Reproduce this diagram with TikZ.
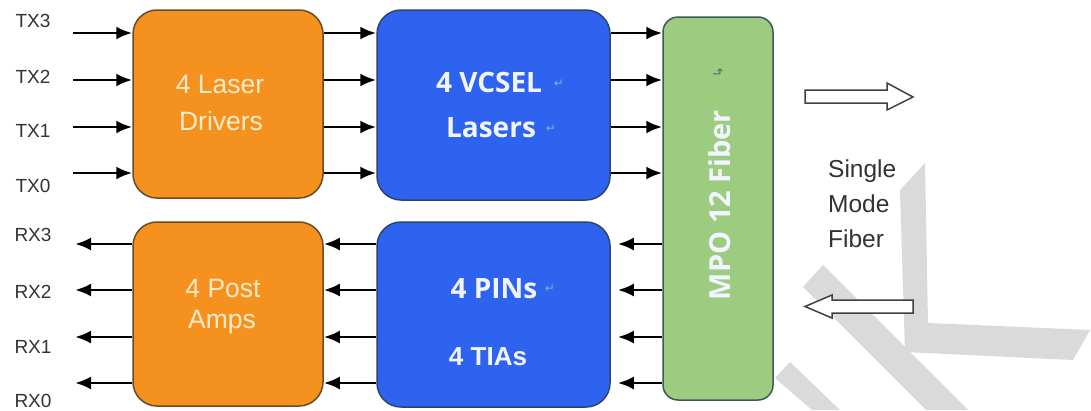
\documentclass[tikz,border=0pt]{standalone}
\usepackage{fontspec}
\setmainfont{Liberation Sans}
\newfontfamily\osans{Open Sans}
\newfontfamily\djv{DejaVu Sans}
\usetikzlibrary{arrows.meta,calc}
\definecolor{orng}{HTML}{F5921F}
\definecolor{orngb}{HTML}{6B4A2A}
\definecolor{blu}{HTML}{2D63EE}
\definecolor{blub}{HTML}{2D4370}
\definecolor{grn}{HTML}{9DCB80}
\definecolor{grnb}{HTML}{3D5A55}
\definecolor{txtgrey}{HTML}{333333}
\definecolor{otxt}{HTML}{FFEBC8}
\definecolor{btxt}{HTML}{F2F5FF}
\definecolor{wmark}{HTML}{DADADA}
\definecolor{pmark}{HTML}{8FA6E6}
\begin{document}
\begin{tikzpicture}[x=1pt,y=-1pt,
  box/.style={draw, line width=1.5pt, rounded corners=24pt, inner sep=0pt},
  arr/.style={line width=2.7pt, -{Latex[length=16pt,width=13pt]}},
  lbl/.style={text=txtgrey, font=\fontsize{19}{19}\selectfont, inner sep=0pt},
  otext/.style={text=otxt, font=\fontsize{26.5}{26}\selectfont, inner sep=0pt, anchor=base},
  btext/.style={text=btxt, font=\osans\bfseries\fontsize{28}{28}\selectfont, inner sep=0pt, anchor=base},
  pm/.style={text=pmark, font=\djv\fontsize{12}{12}\selectfont, inner sep=0pt},
  smf/.style={text=txtgrey, font=\fontsize{24.5}{24}\selectfont, inner sep=0pt, anchor=base west},
  hollow/.style={draw=black!75, line width=1.5pt, fill=white, line join=miter}
]
\useasboundingbox (0,0) rectangle (1091,410);
\fill[white] (0,0) rectangle (1091,410);

% watermark
\fill[wmark] (900,190) -- (925,163) -- (928,323) -- (1090,330) -- (1073,360) -- (905,352) -- cycle;
\fill[wmark] (803,287) -- (823,265) -- (968,410) -- (926,410) -- cycle;
\fill[wmark] (775,378) -- (790,362) -- (840,410) -- (812,410) -- cycle;

% boxes
\node[box, fill=orng, draw=orngb, minimum width=190pt, minimum height=188pt] (ld) at (228,104) {};
\node[box, fill=orng, draw=orngb, minimum width=190pt, minimum height=184pt] (pa) at (228,314) {};
\node[box, fill=blu, draw=blub, minimum width=233pt, minimum height=190pt] (vc) at (493.5,105) {};
\node[box, fill=blu, draw=blub, minimum width=233pt, minimum height=185pt] (pn) at (493.5,314.5) {};
\node[box, fill=grn, draw=grnb, rounded corners=15pt, minimum width=110pt, minimum height=383pt] (mpo) at (718,208.5) {};

% box texts
\node[otext] (ld1) at (220,93) {4 Laser};
\node[otext] (ld2) at (221,130) {Drivers};
\node[otext] (pa1) at (223,297) {4 Post};
\node[otext] (pa2) at (222,328) {Amps};
\node[btext] (vc1) at (489,92) {4 VCSEL};
\node[btext] (vc2) at (491,137) {Lasers};
\node[btext] (pn1) at (494,298) {4 PINs};
\node[text=btxt, font=\bfseries\fontsize{26}{26}\selectfont, inner sep=0pt, anchor=base] (pn2) at (488,365) {4 TIAs};
\node[pm] (pm1) at (559,84) {↵};
\node[pm] (pm2) at (551,129) {↵};
\node[pm] (pm3) at (550,289) {↵};
\node[text=btxt, font=\osans\bfseries\fontsize{29}{29}\selectfont, inner sep=0pt, rotate=90] (mpot) at (720,205) {MPO 12 Fiber};
\node[text=grnb!80!grn, font=\djv\fontsize{13}{13}\selectfont, inner sep=0pt, rotate=90] (pm4) at (718,72) {↳};

% TX / RX labels
\node[lbl] (tx3) at (33,21) {TX3};
\node[lbl] (tx2) at (33,77) {TX2};
\node[lbl] (tx1) at (33,131) {TX1};
\node[lbl] (tx0) at (33,186) {TX0};
\node[lbl] (rx3) at (33,235) {RX3};
\node[lbl] (rx2) at (33,292) {RX2};
\node[lbl] (rx1) at (33,347) {RX1};
\node[lbl] (rx0) at (33,401) {RX0};

% TX side connectors
\foreach \y/\n in {33/3,80/2,127/1,173/0}{
  \coordinate (ti\n) at (73,\y);
  \draw[arr] (ti\n) -- (ld.west |- ti\n);
  \draw[arr] (ld.east |- ti\n) -- (vc.west |- ti\n);
  \draw[arr] (vc.east |- ti\n) -- (mpo.west |- ti\n);
}
% RX side connectors
\foreach \y/\n in {244/3,290/2,337/1,383/0}{
  \coordinate (ro\n) at (75,\y);
  \draw[arr, shorten >=7pt] (mpo.west |- ro\n) -- (pn.east |- ro\n);
  \draw[arr] (pn.west |- ro\n) -- (pa.east |- ro\n);
  \draw[arr] (pa.west |- ro\n) -- (ro\n);
}

% hollow arrows
\draw[hollow] (805,90) -- (887,90) -- (887,83) -- (913,97) -- (887,110) -- (887,103) -- (805,103) -- cycle;
\draw[hollow] (913,300) -- (832,300) -- (832,295) -- (805,306.5) -- (832,318) -- (832,313) -- (913,313) -- cycle;

% single mode fiber text
\node[smf] (s1) at (828,177) {Single};
\node[smf] (s2) at (828,212) {Mode};
\node[smf] (s3) at (828,247) {Fiber};
\end{tikzpicture}
\end{document}
